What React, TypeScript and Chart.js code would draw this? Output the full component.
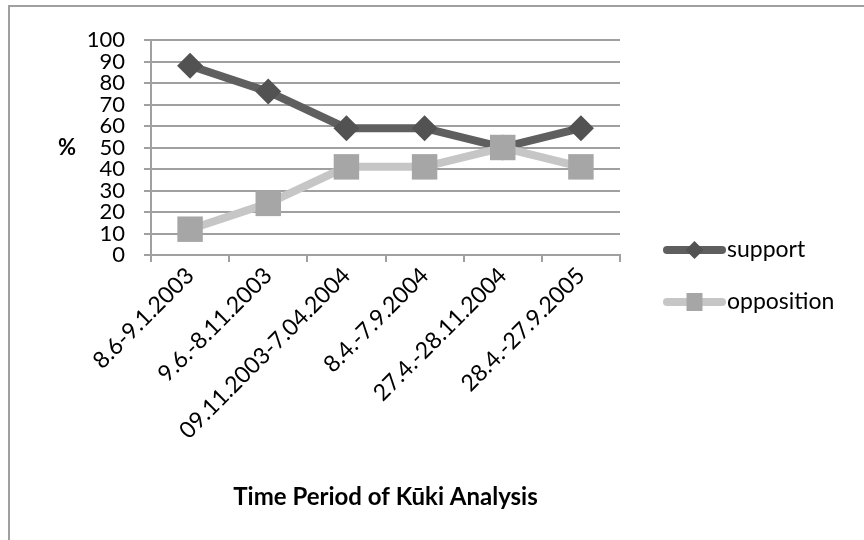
import React, { useEffect, useRef } from "react";
import { Chart, registerables } from "chart.js";

Chart.register(...registerables);

const categories = [
  "8.6-9.1.2003",
  "9.6.-8.11.2003",
  "09.11.2003-7.04.2004",
  "8.4.-7.9.2004",
  "27.4.-28.11.2004",
  "28.4.-27.9.2005",
];
const supportValues = [88, 76, 59, 59, 50, 59];
const oppositionValues = [12, 24, 41, 41, 50, 41];
const yMin = 0;
const yMax = 100;
const yStep = 10;
const seriesNames = ["support", "opposition"];
const yTitle = "%";
const xTitle = "Time Period of Kūki Analysis";

const FONT = "Lato, 'Open Sans', sans-serif";

const SUPPORT_LINE = "#5f5f5f";
const SUPPORT_POINT = "#525252";
const OPP_LINE = "#c6c6c6";
const OPP_POINT = "#a6a6a6";

export default function App() {
  const ref = useRef<HTMLCanvasElement | null>(null);

  useEffect(() => {
    if (!ref.current) return;

    const framePlugin = {
      id: "frame",
      beforeDraw(chart: any) {
        const ctx = chart.ctx;
        ctx.save();
        ctx.fillStyle = "#ffffff";
        ctx.fillRect(0, 0, chart.width, chart.height);
        ctx.strokeStyle = "#a0a0a0";
        ctx.lineWidth = 2;
        ctx.beginPath();
        ctx.moveTo(9, chart.height);
        ctx.lineTo(9, 6);
        ctx.lineTo(chart.width, 6);
        ctx.stroke();
        ctx.restore();
      },
    };

    const extrasPlugin = {
      id: "extras",
      afterDraw(chart: any) {
        const ctx = chart.ctx;
        const area = chart.chartArea;
        ctx.save();
        // y title
        ctx.fillStyle = "#000";
        ctx.font = `bold 22px ${FONT}`;
        ctx.textAlign = "center";
        ctx.textBaseline = "middle";
        ctx.fillText(yTitle, 67, (area.top + area.bottom) / 2);

        // legend
        const items = chart.data.datasets.map((ds: any, i: number) => ({
          ds,
          y: 250 + i * 52,
        }));
        for (const it of items) {
          const ds = it.ds;
          const x0 = 667;
          const x1 = 722;
          ctx.strokeStyle = ds.borderColor;
          ctx.lineWidth = 8;
          ctx.lineCap = "round";
          ctx.beginPath();
          ctx.moveTo(x0, it.y);
          ctx.lineTo(x1, it.y);
          ctx.stroke();
          const cx = (x0 + x1) / 2;
          ctx.fillStyle = ds.pointBackgroundColor;
          ctx.beginPath();
          if (ds.pointStyle === "rectRot") {
            const r = 9;
            ctx.moveTo(cx, it.y - r);
            ctx.lineTo(cx + r, it.y);
            ctx.lineTo(cx, it.y + r);
            ctx.lineTo(cx - r, it.y);
            ctx.closePath();
          } else {
            ctx.rect(cx - 8, it.y - 9, 16, 18);
          }
          ctx.fill();
          ctx.fillStyle = "#000";
          ctx.font = `23px ${FONT}`;
          ctx.textAlign = "left";
          ctx.textBaseline = "middle";
          ctx.fillText(ds.label, x1 + 5, it.y);
        }
        ctx.restore();
      },
    };

    const chart = new Chart(ref.current, {
      type: "line",
      data: {
        labels: categories,
        datasets: [
          {
            label: seriesNames[0],
            data: supportValues,
            borderColor: SUPPORT_LINE,
            backgroundColor: SUPPORT_POINT,
            pointBackgroundColor: SUPPORT_POINT,
            pointBorderColor: SUPPORT_POINT,
            borderWidth: 8,
            pointStyle: "rectRot",
            pointRadius: 13,
            pointBorderWidth: 0,
            tension: 0,
            order: 1,
          },
          {
            label: seriesNames[1],
            data: oppositionValues,
            borderColor: OPP_LINE,
            backgroundColor: OPP_POINT,
            pointBackgroundColor: OPP_POINT,
            pointBorderColor: OPP_POINT,
            borderWidth: 8,
            pointStyle: "rect",
            pointRadius: 18,
            pointBorderWidth: 0,
            tension: 0,
            order: 0,
          },
        ],
      },
      options: {
        responsive: false,
        animation: false,
        layout: { padding: { left: 0, top: 40, right: 244, bottom: 0 } },
        plugins: {
          legend: { display: false },
          tooltip: { enabled: false },
          title: { display: false },
        },
        scales: {
          x: {
            type: "category",
            offset: true,
            grid: {
              offset: true,
              drawOnChartArea: false,
              drawTicks: true,
              tickLength: 7,
              color: "#a0a0a0",
              lineWidth: 2,
            },
            border: { color: "#a0a0a0", width: 2 },
            ticks: {
              autoSkip: false,
              maxRotation: 45,
              minRotation: 45,
              padding: 0,
              color: "#000",
              font: { family: FONT, size: 23 },
            },
            title: {
              display: true,
              text: xTitle,
              color: "#000",
              font: { family: FONT, size: 24, weight: "bold" },
              padding: { top: 0, bottom: 28 },
            },
            afterFit(scale: any) {
              scale.height = 285;
            },
          },
          y: {
            min: yMin,
            max: yMax,
            grid: {
              color: "#a0a0a0",
              lineWidth: 2,
              tickLength: 7,
            },
            border: { color: "#a0a0a0", width: 2 },
            ticks: {
              stepSize: yStep,
              autoSkip: false,
              padding: 19,
              color: "#000",
              font: { family: FONT, size: 22, lineHeight: 1 },
            },
            afterFit(scale: any) {
              scale.width = 151;
            },
          },
        },
      },
      plugins: [framePlugin, extrasPlugin],
    } as any);

    return () => chart.destroy();
  }, []);

  return (
    <div style={{ position: "absolute", left: 0, top: 0, width: 864, height: 540 }}>
      <canvas ref={ref} width={864} height={540} style={{ display: "block" }} />
    </div>
  );
}
